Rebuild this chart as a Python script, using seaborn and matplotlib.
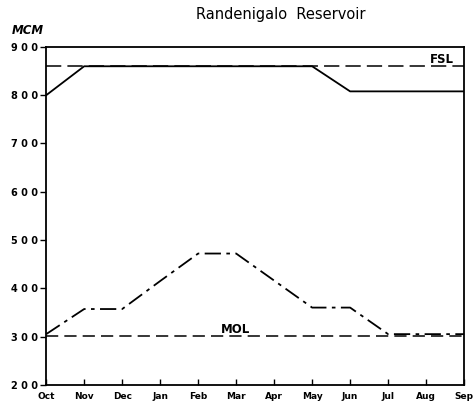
import matplotlib
matplotlib.use('Agg')
import matplotlib.pyplot as plt
import numpy as np
import pandas as pd
import seaborn as sns

sns.set_theme(style='white')
plt.rcParams['font.family'] = ['DejaVu Sans']
plt.rcParams['text.color'] = 'black'
plt.rcParams['xtick.color'] = 'black'
plt.rcParams['ytick.color'] = 'black'

months = ['Oct', 'Nov', 'Dec', 'Jan', 'Feb', 'Mar', 'Apr', 'May', 'Jun', 'Jul', 'Aug', 'Sep']
upper = [800, 860, 860, 860, 860, 860, 860, 860, 808, 808, 808, 808]
lower = [305, 357, 357, 415, 472, 472, 416, 360, 360, 305, 305, 305]
fsl = 860
mol = 302
yticks = [200, 300, 400, 500, 600, 700, 800, 900]


def main():
    df = pd.DataFrame({'m': np.arange(len(months)), 'upper': upper, 'lower': lower})

    fig = plt.figure(figsize=(4.76, 4.12), dpi=100)
    ax = fig.add_axes([0.097, 0.066, 0.878, 0.82])

    sns.lineplot(data=df, x='m', y='upper', color='black', lw=1.3, ax=ax)
    sns.lineplot(data=df, x='m', y='lower', color='black', lw=1.3, ax=ax)
    ax.lines[-1].set_dashes([9, 3, 2, 3])
    ax.axhline(fsl, color='black', lw=1.1, dashes=(10, 4))
    ax.axhline(mol, color='black', lw=1.1, dashes=(8, 4))

    ax.text(10.1, fsl + 6, 'FSL', fontsize=8.5, fontweight='bold')
    ax.text(4.6, mol + 6, 'MOL', fontsize=8.5, fontweight='bold')

    ax.set_xlim(0, len(months) - 1)
    ax.set_ylim(200, 900)
    ax.set_xticks(df['m'])
    ax.set_xticklabels(months, fontsize=6.5, fontweight='bold')
    ax.set_yticks(yticks)
    ax.set_yticklabels([' '.join(str(v)) for v in yticks], fontsize=7, fontweight='bold')
    ax.tick_params(axis='x', direction='in', length=4, width=1, pad=5, bottom=True)
    ax.tick_params(axis='y', direction='out', length=4, width=1, pad=2, left=True)
    for s in ax.spines.values():
        s.set_color('black')
        s.set_linewidth(1.3)
    ax.set_xlabel('')
    ax.set_ylabel('')

    fig.text(0.59, 0.955, 'Randenigalo  Reservoir', ha='center', fontsize=10.5)
    fig.text(0.025, 0.918, 'MCM', fontsize=8.5, fontweight='bold', style='italic')

    fig.savefig('out.png', dpi=100)


if __name__ == '__main__':
    main()
